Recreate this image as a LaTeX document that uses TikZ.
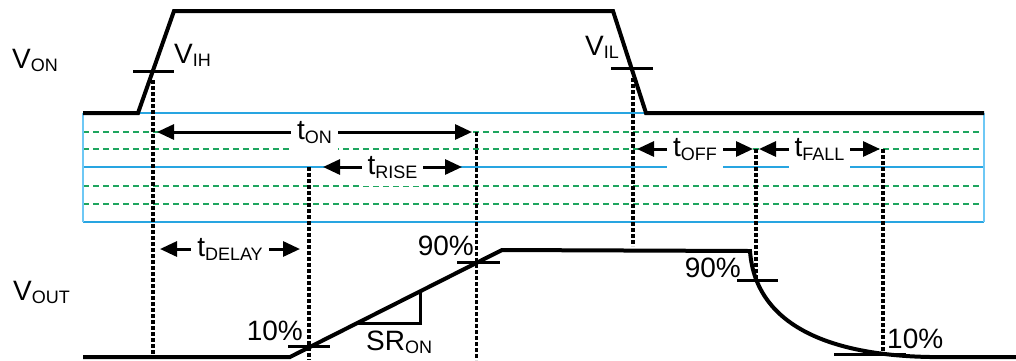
\documentclass[tikz,border=0pt]{standalone}
\usepackage{fontspec}
\setmainfont{Liberation Sans}
\usetikzlibrary{arrows.meta}
\definecolor{gridblue}{RGB}{40,165,225}
\definecolor{edgeblue}{RGB}{110,200,245}
\definecolor{gridgreen}{RGB}{30,165,95}
\newcommand\sbs[1]{\raisebox{-3.5pt}{\fontsize{18}{18}\selectfont #1}}
\begin{document}
\begin{tikzpicture}[x=1pt,y=-1pt,font=\fontsize{28}{30}\selectfont,
  wave/.style={line width=4pt},
  tickmark/.style={line width=3pt},
  vdot/.style={line width=3.2pt,dash pattern=on 3.5pt off 2.5pt},
  dim/.style={line width=3pt,{Triangle[length=17pt,width=15pt]}-{Triangle[length=17pt,width=15pt]}},
  gline/.style={gridblue,line width=1.6pt},
  gedge/.style={edgeblue,line width=2.5pt},
  gdash/.style={gridgreen,line width=1.3pt,dash pattern=on 6pt off 4pt},
  lbl/.style={fill=white,inner xsep=6pt,inner ysep=1pt,text height=19pt,text depth=10pt,anchor=base,yshift=-7.5pt},
  txt/.style={inner sep=0pt}]
\useasboundingbox (0,0) rectangle (1016,360);
% grid
\coordinate (g-tl) at (83,113); \coordinate (g-tr) at (984,113);
\coordinate (g-ml) at (83,167); \coordinate (g-mr) at (984,167);
\coordinate (g-bl) at (83,222); \coordinate (g-br) at (984,222);
\foreach \y [count=\i] in {132,149,186,204}{
  \coordinate (d\i-l) at (83,\y); \coordinate (d\i-r) at (984,\y);
  \draw[gdash] (d\i-l) -- (d\i-r);}
\draw[gline] (g-tl) -- (g-tr);
\draw[gline] (g-ml) -- (g-mr);
\draw[gline] (g-bl) -- (g-br);
\draw[gedge] (g-tl) -- (g-bl);
\draw[gedge] (g-tr) -- (g-br);
% dotted verticals
\coordinate (v1a) at (153,80);  \coordinate (v1b) at (153,357);
\coordinate (v2a) at (309,167); \coordinate (v2b) at (309,360);
\coordinate (v3a) at (476.5,132); \coordinate (v3b) at (476.5,360);
\coordinate (v4a) at (633,78);  \coordinate (v4b) at (633,246);
\coordinate (v5a) at (756,149); \coordinate (v5b) at (756,282);
\coordinate (v6a) at (883,149); \coordinate (v6b) at (883,353);
\foreach \i in {1,...,6}{\draw[vdot] (v\i a) -- (v\i b);}
% dimension arrows
\coordinate (ton-l) at (157,132); \coordinate (ton-r) at (472,132);
\draw[dim] (ton-l) -- (ton-r) node[midway,lbl] (ton) {t\sbs{ON}};
\coordinate (tri-l) at (323,167); \coordinate (tri-r) at (462,167);
\draw[dim] (tri-l) -- (tri-r) node[midway,lbl] (trise) {t\sbs{RISE}};
\coordinate (toff-l) at (637,149); \coordinate (toff-r) at (753,149);
\draw[dim] (toff-l) -- (toff-r) node[midway,lbl] (toff) {t\sbs{OFF}};
\coordinate (tf-l) at (759,149); \coordinate (tf-r) at (880,149);
\draw[dim] (tf-l) -- (tf-r) node[midway,lbl] (tfall) {t\sbs{FALL}};
\coordinate (td-l) at (160,249); \coordinate (td-r) at (300,249);
\draw[dim] (td-l) -- (td-r) node[midway,lbl] (tdelay) {t\sbs{DELAY}};
% V_ON waveform
\coordinate (on0) at (83,113); \coordinate (on1) at (138,113);
\coordinate (on2) at (174,11); \coordinate (on3) at (613,11);
\coordinate (on4) at (646,113); \coordinate (on5) at (984,113);
\draw[wave] (on0) -- (on1) -- (on2) -- (on3) -- (on4) -- (on5);
% V_OUT waveform
\coordinate (out0) at (83,357); \coordinate (out1) at (290,357);
\coordinate (out2) at (502,250); \coordinate (out3) at (750,251);
\coordinate (out4) at (930,357); \coordinate (out5) at (1016,357);
\draw[wave] (out0) -- (out1) -- (out2) -- (out3)
  .. controls (755,320) and (820,355) .. (out4) -- (out5);
% slew rate triangle
\coordinate (sr-a) at (357,323); \coordinate (sr-b) at (420,323); \coordinate (sr-c) at (420,291);
\draw[tickmark] (sr-a) -- (sr-b) -- (sr-c);
% tick marks
\coordinate (vih-a) at (133,71); \coordinate (vih-b) at (174,71);
\coordinate (vil-a) at (611,68); \coordinate (vil-b) at (653,68);
\coordinate (p10a-a) at (288,346); \coordinate (p10a-b) at (330,346);
\coordinate (p90a-a) at (457,262); \coordinate (p90a-b) at (500,262);
\coordinate (p90b-a) at (737,280); \coordinate (p90b-b) at (778,280);
\coordinate (p10b-a) at (834,354); \coordinate (p10b-b) at (906,354);
\foreach \t in {vih,vil,p10a,p90a,p90b,p10b}{\draw[tickmark] (\t-a) -- (\t-b);}
% labels
\node[txt,anchor=base west] (von) at (12,68) {V\sbs{ON}};
\node[txt,anchor=base west] (vout) at (13,300) {V\sbs{OUT}};
\node[txt,anchor=base west] (vih) at (174,63) {V\sbs{IH}};
\node[txt,anchor=base west] (vil) at (585,55) {V\sbs{IL}};
\node[txt,anchor=base east] (l10a) at (303,340) {10\%};
\node[txt,anchor=base east] (l90a) at (474,255) {90\%};
\node[txt,anchor=base west] (sron) at (366,350) {SR\sbs{ON}};
\node[txt,anchor=base east] (l90b) at (741,277) {90\%};
\node[txt,anchor=base west] (l10b) at (887,348) {10\%};
\end{tikzpicture}
\end{document}
